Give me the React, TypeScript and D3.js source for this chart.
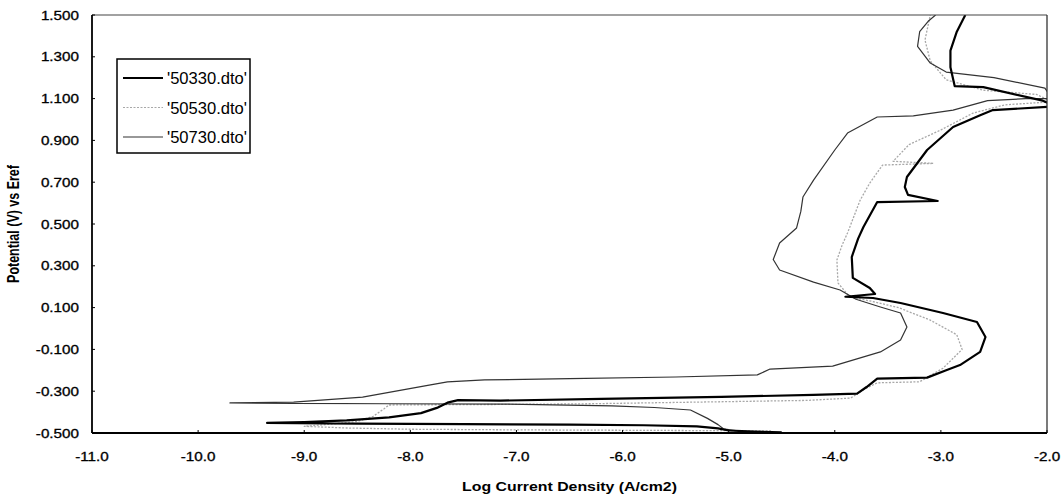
// @ts-nocheck
import React, { useEffect, useRef } from "react";
import * as d3 from "d3";

// x = log current density (A/cm2), y = potential (V)
const s50330 = [
  [-4.5, -0.497], [-4.75, -0.493], [-5.0, -0.488], [-5.1, -0.478], [-5.3, -0.468],
  [-5.8, -0.463], [-6.5, -0.46], [-7.5, -0.458], [-8.5, -0.455], [-9.35, -0.452],
  [-9.0, -0.448], [-8.6, -0.44], [-8.2, -0.425], [-7.9, -0.405], [-7.75, -0.38],
  [-7.65, -0.355], [-7.55, -0.343], [-7.15, -0.345], [-6.2, -0.337], [-5.07, -0.327],
  [-4.2, -0.318], [-3.79, -0.312], [-3.7, -0.28], [-3.6, -0.24], [-3.13, -0.235],
  [-2.95, -0.2], [-2.82, -0.175], [-2.63, -0.112], [-2.58, -0.041], [-2.66, 0.031],
  [-2.98, 0.074], [-3.38, 0.122], [-3.64, 0.146], [-3.9, 0.152], [-3.62, 0.165],
  [-3.67, 0.194], [-3.83, 0.242], [-3.84, 0.342], [-3.78, 0.43], [-3.73, 0.486],
  [-3.6, 0.605], [-3.03, 0.61], [-3.31, 0.639], [-3.34, 0.677], [-3.32, 0.725],
  [-3.13, 0.854], [-2.885, 0.964], [-2.63, 1.02], [-2.51, 1.045], [-2.0, 1.06],
  [-1.95, 1.07], [-2.04, 1.09], [-2.6, 1.155], [-2.87, 1.16], [-2.91, 1.25],
  [-2.91, 1.33], [-2.85, 1.42], [-2.77, 1.5],
];

const s50530 = [
  [-4.6, -0.49], [-5.0, -0.489], [-6.0, -0.487], [-7.0, -0.485], [-8.0, -0.482],
  [-8.6, -0.476], [-9.0, -0.468], [-8.8, -0.46], [-8.5, -0.445], [-8.35, -0.42],
  [-8.25, -0.385], [-8.2, -0.366], [-7.0, -0.363], [-6.3, -0.36], [-5.27, -0.352],
  [-4.26, -0.344], [-3.85, -0.333], [-3.72, -0.29], [-3.6, -0.26], [-3.2, -0.255],
  [-2.98, -0.19], [-2.8, -0.1], [-2.85, -0.03], [-3.1, 0.04], [-3.4, 0.1],
  [-3.65, 0.13], [-3.86, 0.151], [-3.97, 0.218], [-3.98, 0.328], [-3.93, 0.4],
  [-3.88, 0.457], [-3.76, 0.615], [-3.67, 0.696], [-3.55, 0.782], [-3.07, 0.79],
  [-3.45, 0.8], [-3.3, 0.88], [-3.0, 0.95], [-2.7, 1.03], [-2.4, 1.07],
  [-1.95, 1.085], [-2.1, 1.12], [-2.6, 1.14], [-2.95, 1.19], [-3.1, 1.28],
  [-3.15, 1.38], [-3.1, 1.5],
];

const s50730 = [
  [-4.55, -0.498], [-4.85, -0.494], [-5.05, -0.48], [-5.1, -0.46], [-5.2, -0.43],
  [-5.36, -0.39], [-5.7, -0.378], [-6.1, -0.37], [-7.09, -0.362], [-8.2, -0.36],
  [-9.1, -0.358], [-9.7, -0.356], [-9.1, -0.352], [-8.45, -0.328], [-7.81, -0.27],
  [-7.65, -0.255], [-7.3, -0.246], [-6.5, -0.24], [-5.5, -0.232], [-4.73, -0.222],
  [-4.61, -0.194], [-4.02, -0.18], [-3.57, -0.112], [-3.38, -0.055], [-3.32, 0.007],
  [-3.38, 0.074], [-3.57, 0.103], [-3.8, 0.14], [-3.95, 0.184], [-4.2, 0.222],
  [-4.52, 0.28], [-4.58, 0.33], [-4.52, 0.409], [-4.36, 0.481], [-4.32, 0.56],
  [-4.3, 0.629], [-4.2, 0.71], [-4.0, 0.854], [-3.88, 0.935], [-3.6, 1.012],
  [-3.26, 1.017], [-2.885, 1.045], [-2.56, 1.09], [-2.2, 1.1], [-1.95, 1.1],
  [-2.02, 1.15], [-2.5, 1.2], [-2.95, 1.227], [-3.1, 1.27], [-3.22, 1.35],
  [-3.2, 1.42], [-3.12, 1.47], [-3.05, 1.5],
];

const seriesNames = ["'50330.dto'", "'50530.dto'", "'50730.dto'"];
const xTicks = [-11, -10, -9, -8, -7, -6, -5, -4, -3, -2];
const yTicks = [-0.5, -0.3, -0.1, 0.1, 0.3, 0.5, 0.7, 0.9, 1.1, 1.3, 1.5];

function App() {
  const ref = useRef(null);

  useEffect(() => {
    document.body.style.margin = "0";
    var width = 1064,
      height = 498;
    var margin = { top: 15, right: 17, bottom: 65, left: 92 };

    var svg = d3.select(ref.current);
    svg.selectAll("*").remove();

    var x = d3.scaleLinear().domain([-11, -2]).range([margin.left, width - margin.right]);
    var y = d3.scaleLinear().domain([-0.5, 1.5]).range([height - margin.bottom, margin.top]);

    var font = "'Liberation Sans', Arial, sans-serif";
    var stretch = 1.27; // scanned picture is wider than tall

    svg
      .append("rect")
      .attr("width", width)
      .attr("height", height)
      .attr("fill", "#fff");

    svg
      .append("clipPath")
      .attr("id", "plotclip")
      .append("rect")
      .attr("x", x(-11))
      .attr("y", y(1.5))
      .attr("width", x(-2) - x(-11))
      .attr("height", y(-0.5) - y(1.5));

    // series
    var styles = [
      { data: s50330, stroke: "#000", width: 2.2, dash: null },
      { data: s50530, stroke: "#a8a8a8", width: 1.3, dash: "2,1.5" },
      { data: s50730, stroke: "#333", width: 1.2, dash: null },
    ];
    var line = d3
      .line()
      .x((d) => x(d[0]))
      .y((d) => y(d[1]));

    var plot = svg.append("g").attr("clip-path", "url(#plotclip)");
    // draw light one first so the dark lines stay on top
    [1, 2, 0].forEach(function (i) {
      var s = styles[i];
      plot
        .append("path")
        .attr("d", line(s.data))
        .attr("fill", "none")
        .attr("stroke", s.stroke)
        .attr("stroke-width", s.width)
        .attr("stroke-linejoin", "round")
        .attr("stroke-dasharray", s.dash);
    });

    // frame
    svg
      .append("line")
      .attr("x1", x(-11)).attr("x2", x(-2))
      .attr("y1", y(1.5)).attr("y2", y(1.5))
      .attr("stroke", "#444").attr("stroke-width", 1.2);
    svg
      .append("line")
      .attr("x1", x(-2)).attr("x2", x(-2))
      .attr("y1", y(1.5)).attr("y2", y(-0.5))
      .attr("stroke", "#333").attr("stroke-width", 1.3);
    svg
      .append("line")
      .attr("x1", x(-11)).attr("x2", x(-11))
      .attr("y1", y(1.5)).attr("y2", y(-0.5))
      .attr("stroke", "#000").attr("stroke-width", 1.8);
    svg
      .append("line")
      .attr("x1", x(-11)).attr("x2", x(-2))
      .attr("y1", y(-0.5)).attr("y2", y(-0.5))
      .attr("stroke", "#000").attr("stroke-width", 2);

    // x ticks and labels
    var xg = svg.append("g");
    xTicks.forEach(function (t) {
      xg.append("line")
        .attr("x1", x(t)).attr("x2", x(t))
        .attr("y1", y(-0.5)).attr("y2", y(-0.5) - 3)
        .attr("stroke", "#000");
      xg.append("g")
        .attr("transform", "translate(" + x(t) + "," + (y(-0.5) + 28) + ") scale(" + stretch + ",1)")
        .append("text")
        .attr("text-anchor", "middle")
        .attr("font-family", font)
        .attr("font-size", 12)
        .attr("fill", "#000")
        .attr("stroke", "#000")
        .attr("stroke-width", 0.3)
        .text(t.toFixed(1));
    });

    // y ticks and labels
    var yg = svg.append("g");
    yTicks.forEach(function (t) {
      yg.append("line")
        .attr("x1", x(-11)).attr("x2", x(-11) + 3)
        .attr("y1", y(t)).attr("y2", y(t))
        .attr("stroke", "#000");
      yg.append("g")
        .attr("transform", "translate(79," + (y(t) + 4.5) + ") scale(" + stretch + ",1)")
        .append("text")
        .attr("text-anchor", "end")
        .attr("font-family", font)
        .attr("font-size", 12)
        .attr("fill", "#000")
        .attr("stroke", "#000")
        .attr("stroke-width", 0.3)
        .text((Math.round(t * 1000) / 1000).toFixed(3));
    });

    // axis titles
    svg
      .append("g")
      .attr("transform", "translate(" + (x(-11) + x(-2)) / 2 + "," + 491 + ") scale(" + stretch + ",1)")
      .append("text")
      .attr("text-anchor", "middle")
      .attr("font-family", font)
      .attr("font-weight", "bold")
      .attr("font-size", 12.5)
      .text("Log Current Density (A/cm2)");

    svg
      .append("g")
      .attr("transform", "translate(19," + (y(-0.5) + y(1.5)) / 2 + ") scale(" + stretch + ",1) rotate(-90)")
      .append("text")
      .attr("text-anchor", "middle")
      .attr("font-family", font)
      .attr("font-weight", "bold")
      .attr("font-size", 12.5)
      .text("Potential (V) vs Eref");

    // legend
    var lg = svg.append("g").attr("transform", "translate(117,59)");
    lg.append("rect")
      .attr("width", 133)
      .attr("height", 94)
      .attr("fill", "#fff")
      .attr("stroke", "#000")
      .attr("stroke-width", 1.5);
    seriesNames.forEach(function (name, i) {
      var s = styles[i];
      var ly = 19 + i * 29.5;
      lg.append("line")
        .attr("x1", 6).attr("x2", 46)
        .attr("y1", ly).attr("y2", ly)
        .attr("stroke", s.stroke)
        .attr("stroke-width", i === 0 ? 1.8 : 1.2)
        .attr("stroke-dasharray", s.dash);
      lg.append("text")
        .attr("x", 50)
        .attr("y", ly + 6)
        .attr("font-family", "'Liberation Sans Narrow', 'Liberation Sans', sans-serif")
        .attr("font-size", 17)
        .attr("textLength", 80)
        .attr("lengthAdjust", "spacingAndGlyphs")
        .attr("fill", "#000")
        .text(name);
    });
  }, []);

  return (
    <div>
      <svg ref={ref} width={1064} height={498} style={{ display: "block" }}></svg>
    </div>
  );
}

export default App;
